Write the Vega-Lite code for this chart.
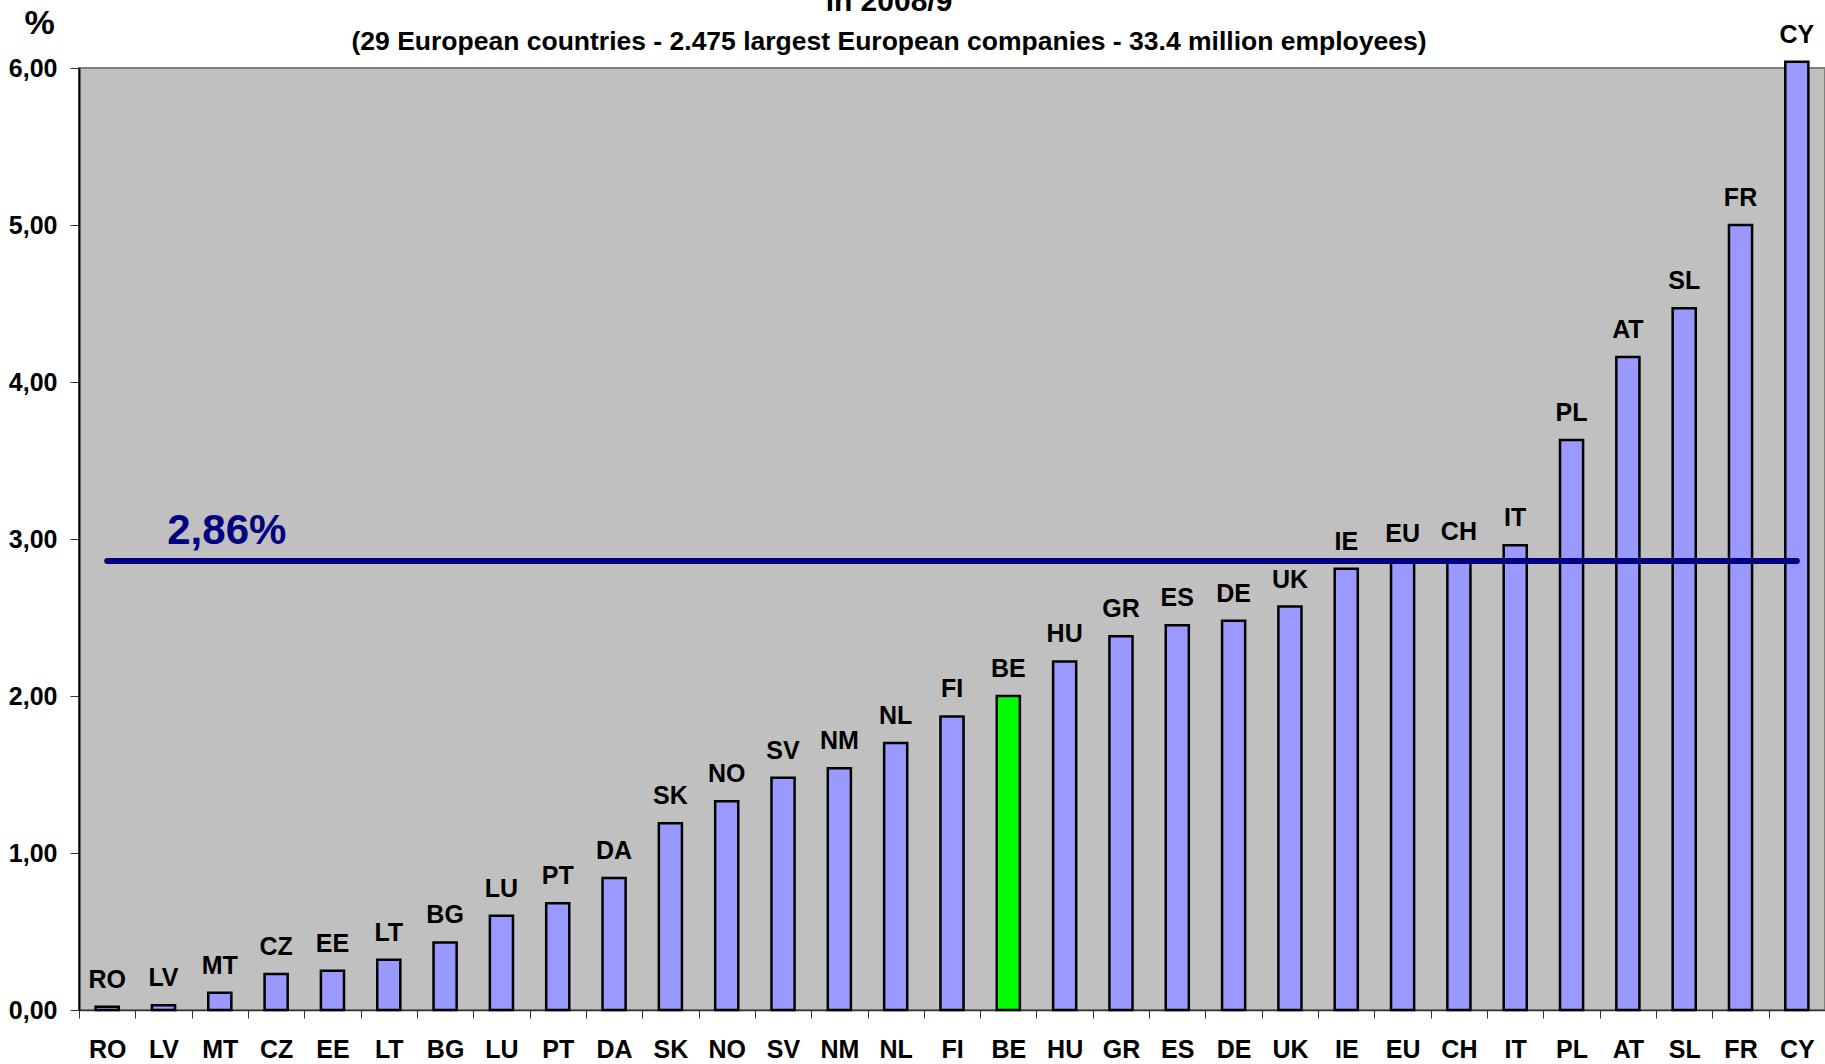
{
  "$schema": "https://vega.github.io/schema/vega-lite/v6.json",
  "autosize": "none",
  "width": 1746,
  "height": 942,
  "padding": {"left": 79, "top": 68, "right": 0, "bottom": 54},
  "background": "#FFFFFF",
  "title": {
    "text": "in 2008/9",
    "subtitle": "(29 European countries - 2.475 largest European companies - 33.4 million employees)",
    "frame": "group",
    "anchor": "middle",
    "dx": -63,
    "offset": -49,
    "font": "Liberation Sans",
    "fontSize": 30,
    "fontWeight": "bold",
    "color": "#000000",
    "subtitleFont": "Liberation Sans",
    "subtitleFontSize": 26.5,
    "subtitleFontWeight": "bold",
    "subtitleColor": "#000000",
    "subtitlePadding": 12
  },
  "config": {
    "font": "Liberation Sans",
    "view": {"fill": "#C0C0C0", "stroke": "#808080", "strokeWidth": 2},
    "axis": {
      "labelFont": "Liberation Sans",
      "labelFontWeight": "bold",
      "labelColor": "#000000",
      "grid": false
    }
  },
  "datasets": {
    "bars": [
      {"country": "RO", "value": 0.02},
      {"country": "LV", "value": 0.03},
      {"country": "MT", "value": 0.11},
      {"country": "CZ", "value": 0.23},
      {"country": "EE", "value": 0.25},
      {"country": "LT", "value": 0.32},
      {"country": "BG", "value": 0.43},
      {"country": "LU", "value": 0.60},
      {"country": "PT", "value": 0.68},
      {"country": "DA", "value": 0.84},
      {"country": "SK", "value": 1.19},
      {"country": "NO", "value": 1.33},
      {"country": "SV", "value": 1.48},
      {"country": "NM", "value": 1.54},
      {"country": "NL", "value": 1.70},
      {"country": "FI", "value": 1.87},
      {"country": "BE", "value": 2.00},
      {"country": "HU", "value": 2.22},
      {"country": "GR", "value": 2.38},
      {"country": "ES", "value": 2.45},
      {"country": "DE", "value": 2.48},
      {"country": "UK", "value": 2.57},
      {"country": "IE", "value": 2.81},
      {"country": "EU", "value": 2.86},
      {"country": "CH", "value": 2.87},
      {"country": "IT", "value": 2.96},
      {"country": "PL", "value": 3.63},
      {"country": "AT", "value": 4.16},
      {"country": "SL", "value": 4.47},
      {"country": "FR", "value": 5.00},
      {"country": "CY", "value": 6.04}
    ],
    "average": [
      {"from": "RO", "to": "CY", "avg": 2.86, "label": "2,86%", "at": "MT"}
    ]
  },
  "layer": [
    {
      "data": {"name": "bars"},
      "mark": {"type": "bar", "width": {"band": 0.41}, "stroke": "#000000", "strokeWidth": 2.5},
      "encoding": {
        "x": {
          "field": "country",
          "type": "nominal",
          "sort": null,
          "scale": {"paddingInner": 0, "paddingOuter": 0},
          "axis": {
            "title": null,
            "labelAngle": 0,
            "labelFontSize": 25,
            "labelPadding": 19,
            "tickBand": "extent",
            "tickSize": 8,
            "tickColor": "#333333",
            "domainColor": "#333333",
            "domainWidth": 1.5
          }
        },
        "y": {
          "field": "value",
          "type": "quantitative",
          "scale": {"domain": [0, 6], "nice": false},
          "axis": {
            "values": [0, 1, 2, 3, 4, 5, 6],
            "labelExpr": "replace(format(datum.value, '.2f'), '.', ',')",
            "labelFontSize": 25,
            "labelPadding": 13,
            "tickSize": 9,
            "tickColor": "#333333",
            "domainColor": "#000000",
            "domainWidth": 2,
            "title": "%",
            "titleAngle": 0,
            "titleFont": "Liberation Sans",
            "titleFontSize": 34,
            "titleFontWeight": "bold",
            "titleColor": "#000000",
            "titleAlign": "center",
            "titleBaseline": "alphabetic",
            "titleX": -40,
            "titleY": -35
          }
        },
        "color": {
          "condition": {"test": "datum.country === 'BE'", "value": "#00FF00"},
          "value": "#9999FF"
        }
      }
    },
    {
      "data": {"name": "bars"},
      "mark": {"type": "text", "font": "Liberation Sans", "fontSize": 25, "fontWeight": "bold", "color": "#000000", "baseline": "alphabetic", "align": "center", "dy": -19},
      "encoding": {
        "x": {"field": "country", "type": "nominal", "sort": null},
        "y": {"field": "value", "type": "quantitative"},
        "text": {"field": "country"}
      }
    },
    {
      "data": {"name": "average"},
      "mark": {"type": "rule", "color": "#000080", "strokeWidth": 6, "strokeCap": "round"},
      "encoding": {
        "x": {"field": "from", "type": "nominal", "sort": null, "bandPosition": 0.5},
        "x2": {"field": "to", "bandPosition": 0.5},
        "y": {"field": "avg", "type": "quantitative"}
      }
    },
    {
      "data": {"name": "average"},
      "mark": {"type": "text", "font": "Liberation Sans", "fontSize": 42, "fontWeight": "bold", "color": "#000080", "baseline": "alphabetic", "align": "center", "dx": 7, "dy": -17},
      "encoding": {
        "x": {"field": "at", "type": "nominal", "sort": null, "bandPosition": 0.5},
        "y": {"field": "avg", "type": "quantitative"},
        "text": {"field": "label"}
      }
    }
  ]
}
